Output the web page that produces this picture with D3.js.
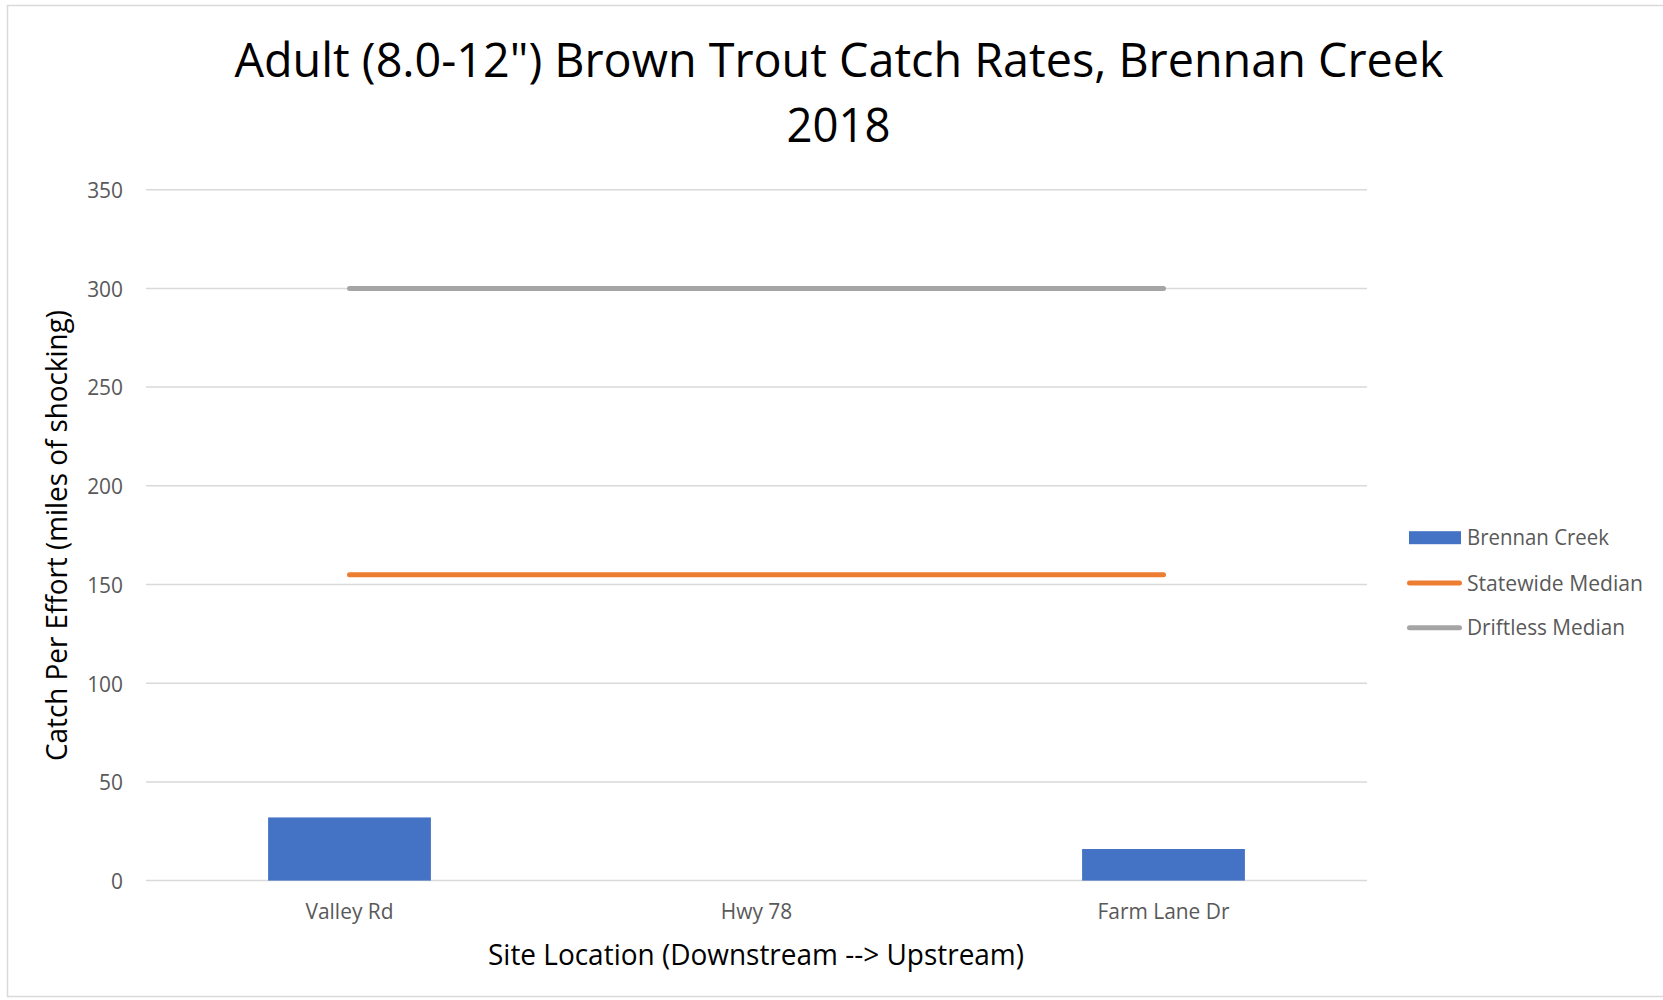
<!DOCTYPE html>
<html>
<head>
<meta charset="utf-8">
<script src="https://cdn.jsdelivr.net/npm/d3@7"></script>
<style>
  html, body { margin: 0; padding: 0; background: #fff; }
  svg { display: block; }
  text { font-family: "Open Sans", "Noto Sans", sans-serif; }
</style>
</head>
<body>
<svg id="chart" width="1663" height="1000"></svg>
<script>
// ---- data ----
const categories = ["Valley Rd", "Hwy 78", "Farm Lane Dr"];
const brennanCreek = [32, null, 16];
const statewideMedian = [155, 155, 155];
const driftlessMedian = [300, 300, 300];
const yTicks = [0, 50, 100, 150, 200, 250, 300, 350];
const seriesNames = ["Brennan Creek", "Statewide Median", "Driftless Median"];
const titleLines = ["Adult (8.0-12\") Brown Trout Catch Rates, Brennan Creek", "2018"];
const xTitle = "Site Location (Downstream --> Upstream)";
const yTitle = "Catch Per Effort (miles of shocking)";

const colors = { bar: "#4472C4", state: "#ED7D31", drift: "#A5A5A5" };

const svg = d3.select("#chart");

// chart area border
svg.append("rect")
  .attr("x", 7.5).attr("y", 5.5)
  .attr("width", 1700).attr("height", 991)
  .attr("fill", "#fff").attr("stroke", "#D9D9D9").attr("stroke-width", 1.5);

const plot = { left: 146, right: 1367, top: 189.7, bottom: 880.6 };

const x = d3.scaleBand().domain(categories)
  .range([plot.left, plot.right]).paddingInner(0.6).paddingOuter(0.3);
const y = d3.scaleLinear().domain([0, 350]).range([plot.bottom, plot.top]);

function fit(sel, width) {
  sel.attr("textLength", width).attr("lengthAdjust", "spacingAndGlyphs");
}
function squeeze(sel, k) {
  sel.each(function () {
    const w = this.getComputedTextLength();
    d3.select(this).attr("textLength", w * k).attr("lengthAdjust", "spacingAndGlyphs");
  });
}

// gridlines
svg.append("g").selectAll("line").data(yTicks).join("line")
  .attr("x1", plot.left).attr("x2", plot.right)
  .attr("y1", d => y(d)).attr("y2", d => y(d))
  .attr("stroke", "#D9D9D9").attr("stroke-width", 1.5);

// y axis labels
const yAxis = d3.axisLeft(y).tickValues(yTicks).tickSize(0).tickPadding(0);
const yg = svg.append("g").attr("transform", `translate(123,0)`).call(yAxis);
yg.select(".domain").remove();
yg.selectAll("text")
  .attr("x", 0).attr("y", 7.8).attr("dy", null)
  .attr("font-size", 22).attr("fill", "#595959").attr("text-anchor", "end")
  .style("font-family", "'Open Sans', 'Noto Sans', sans-serif");
squeeze(yg.selectAll("text"), 0.95);

// x axis labels
const xCenter = d => x(d) + x.bandwidth() / 2;
const xg = svg.append("g");
xg.selectAll("text").data(categories).join("text")
  .attr("x", d => xCenter(d)).attr("y", 919.3)
  .attr("text-anchor", "middle").attr("font-size", 22).attr("fill", "#595959")
  .text(d => d);
squeeze(xg.selectAll("text"), 0.95);

// bars
svg.append("g").selectAll("rect")
  .data(categories.map((c, i) => ({ c, v: brennanCreek[i] })).filter(d => d.v != null))
  .join("rect")
  .attr("x", d => x(d.c)).attr("width", x.bandwidth())
  .attr("y", d => y(d.v)).attr("height", d => y(0) - y(d.v))
  .attr("fill", colors.bar);

// lines
const line = d3.line().x((d, i) => xCenter(categories[i])).y(d => y(d));
svg.append("path").datum(statewideMedian)
  .attr("d", line).attr("fill", "none").attr("stroke", colors.state)
  .attr("stroke-width", 5).attr("stroke-linecap", "round").attr("stroke-linejoin", "round");
svg.append("path").datum(driftlessMedian)
  .attr("d", line).attr("fill", "none").attr("stroke", colors.drift)
  .attr("stroke-width", 5).attr("stroke-linecap", "round").attr("stroke-linejoin", "round");

// title
const t1 = svg.append("text").attr("x", 839).attr("y", 76.7)
  .attr("text-anchor", "middle").attr("font-size", 48).attr("fill", "#000")
  .text(titleLines[0]);
fit(t1, 1209);
const t2 = svg.append("text").attr("x", 838.5).attr("y", 141.7)
  .attr("text-anchor", "middle").attr("font-size", 48).attr("fill", "#000")
  .text(titleLines[1]);
fit(t2, 104);

// axis titles
const xt = svg.append("text").attr("x", 756).attr("y", 965)
  .attr("text-anchor", "middle").attr("font-size", 29.5).attr("fill", "#000")
  .text(xTitle);
fit(xt, 536);
const yt = svg.append("text").attr("transform", "translate(66.5,535.5) rotate(-90)")
  .attr("text-anchor", "middle").attr("font-size", 29.5).attr("fill", "#000")
  .text(yTitle);
fit(yt, 451);

// legend
const legY = [537.7, 583, 627.7];
const legWidths = [142, 176, 158];
const lg = svg.append("g");
lg.append("rect").attr("x", 1409).attr("y", legY[0] - 6.5)
  .attr("width", 52).attr("height", 13).attr("fill", colors.bar);
lg.append("line").attr("x1", 1409.5).attr("x2", 1459.5)
  .attr("y1", legY[1]).attr("y2", legY[1])
  .attr("stroke", colors.state).attr("stroke-width", 5).attr("stroke-linecap", "round");
lg.append("line").attr("x1", 1409.5).attr("x2", 1459.5)
  .attr("y1", legY[2]).attr("y2", legY[2])
  .attr("stroke", colors.drift).attr("stroke-width", 5).attr("stroke-linecap", "round");
lg.selectAll("text").data(seriesNames).join("text")
  .attr("x", 1467).attr("y", (d, i) => legY[i] + 7.6)
  .attr("font-size", 22).attr("fill", "#595959")
  .text(d => d)
  .each(function (d, i) { fit(d3.select(this), legWidths[i]); });
</script>
</body>
</html>
